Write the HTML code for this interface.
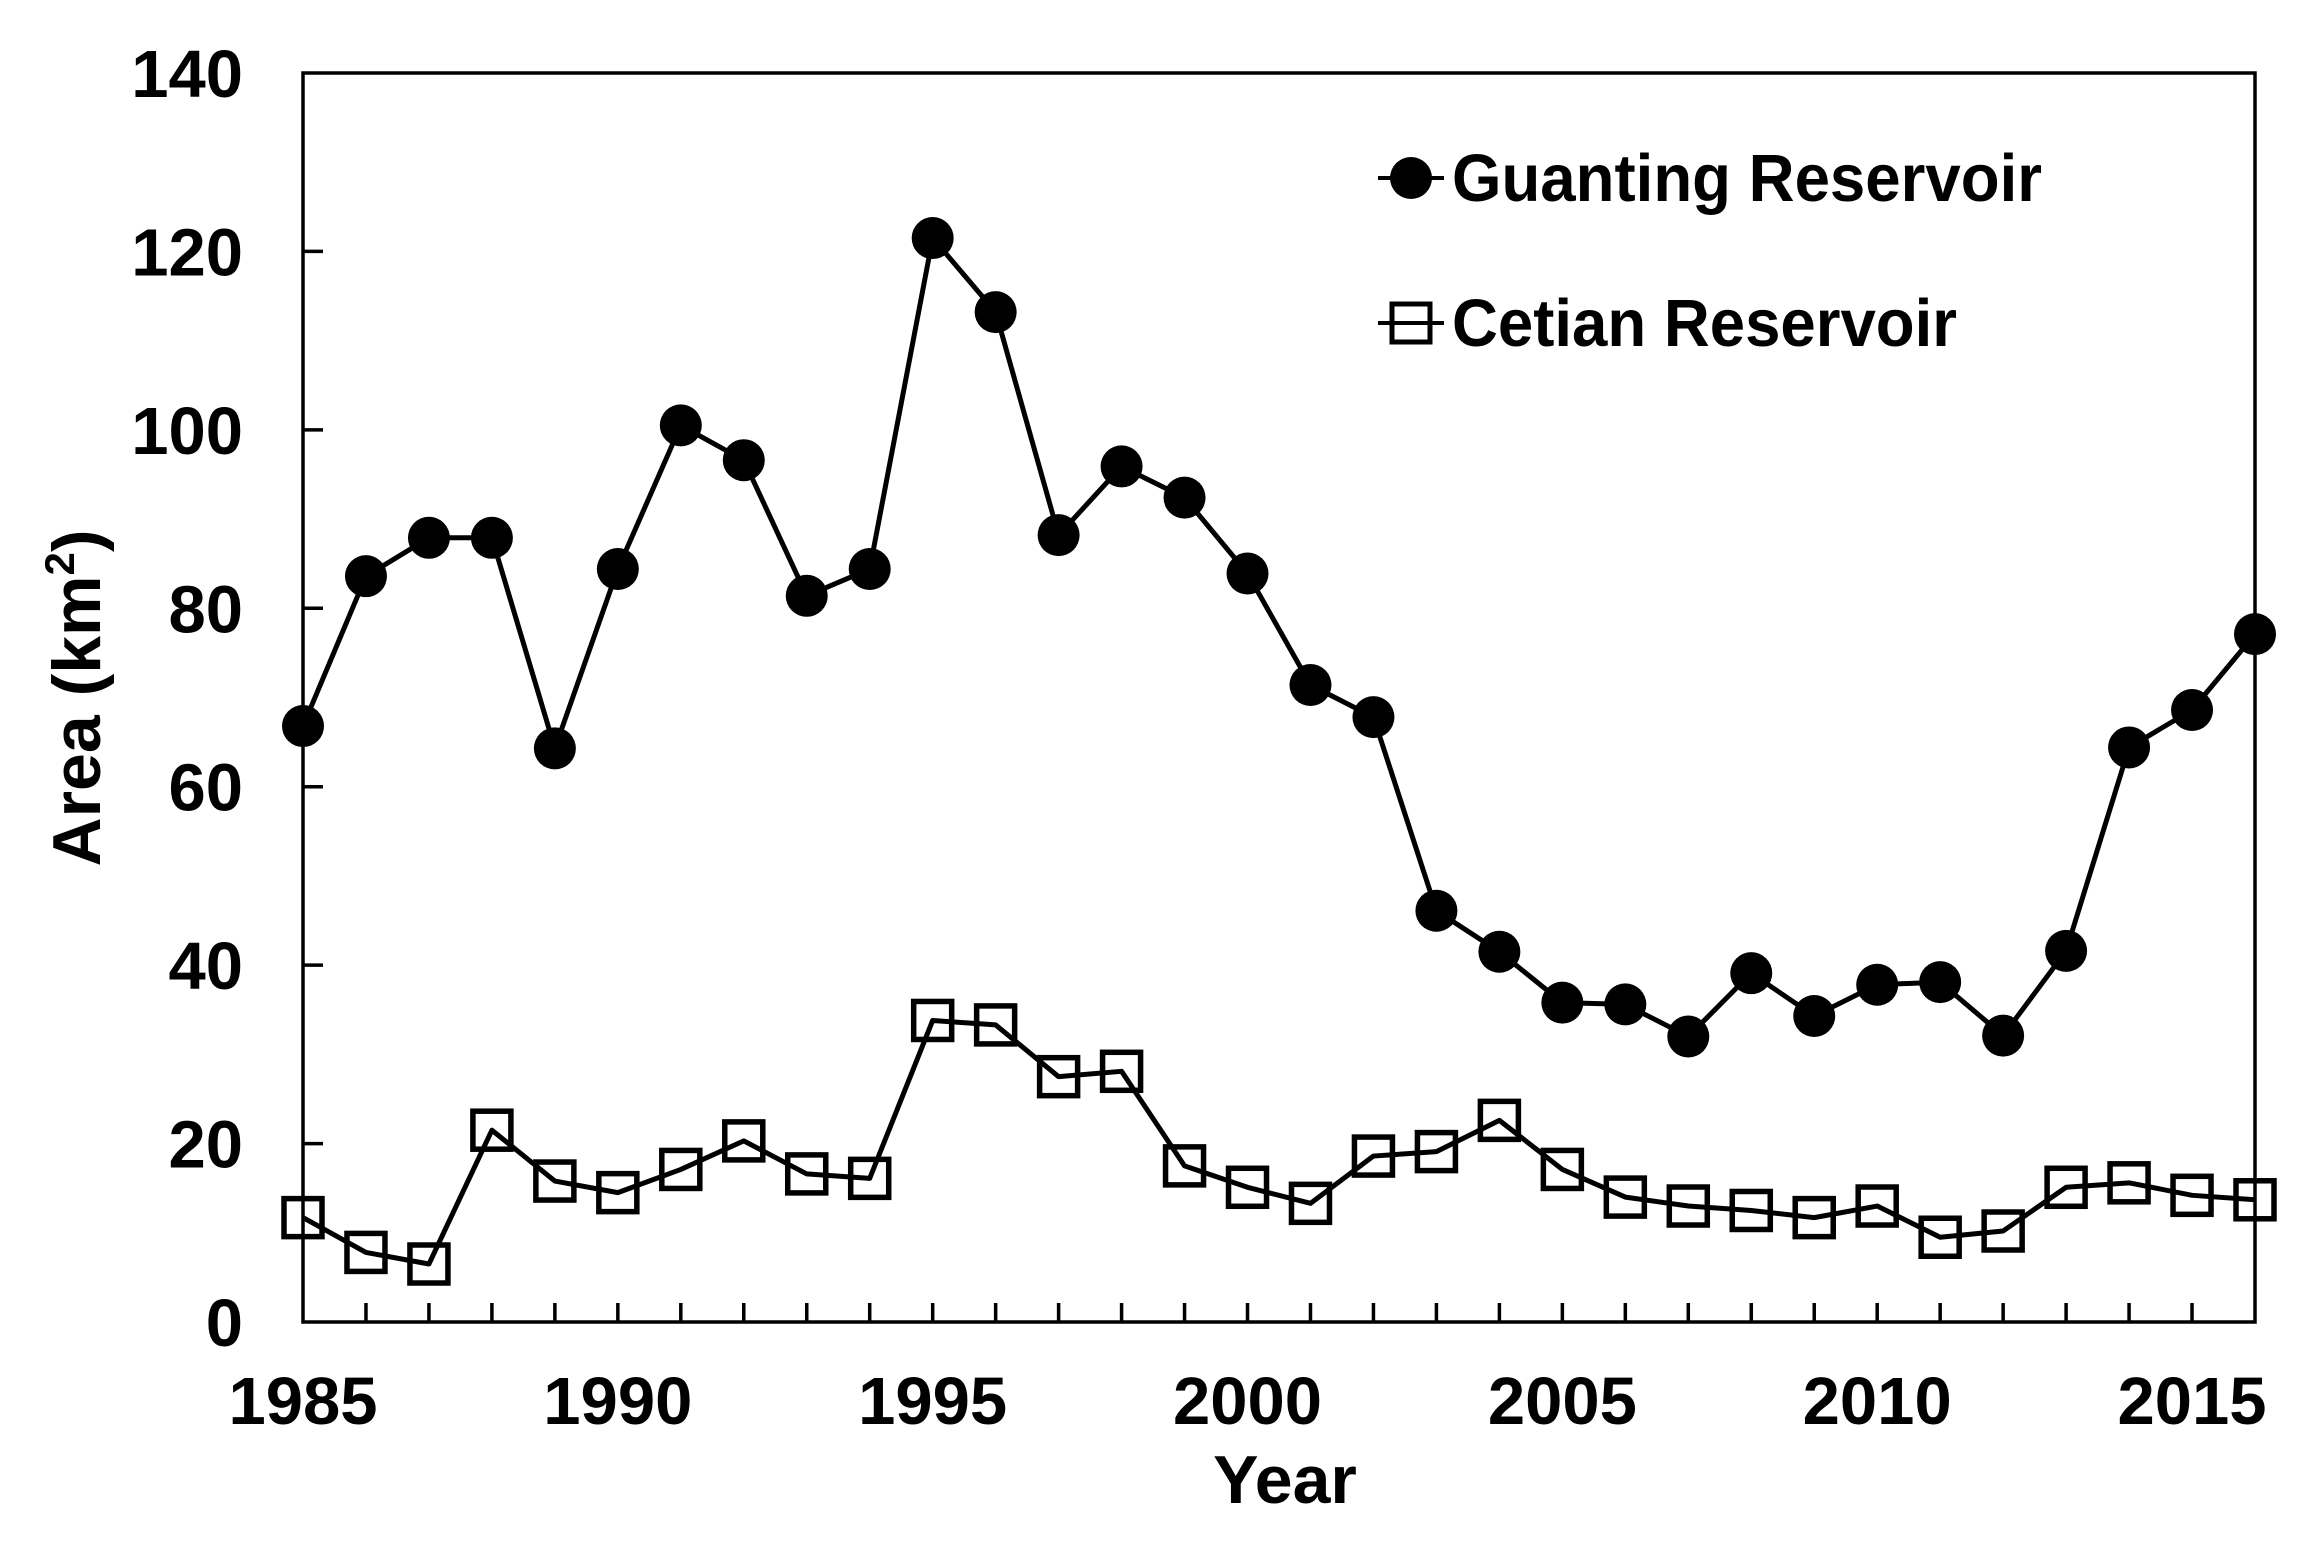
<!DOCTYPE html>
<html><head><meta charset="utf-8"><style>
html,body{margin:0;padding:0;background:#fff}
svg{display:block}
text{font-family:"Liberation Sans",Arial,sans-serif;font-weight:bold;fill:#000}
</style></head><body>
<svg id="chart" width="2317" height="1550" viewBox="0 0 2317 1550" xmlns="http://www.w3.org/2000/svg">
<rect width="2317" height="1550" fill="#fff"/>
<g id="axes"></g>
<g id="series"></g>
<g id="legend">
  <line x1="1378" y1="178" x2="1444" y2="178" stroke="#000" stroke-width="4"/>
  <circle cx="1411" cy="178" r="21" fill="#000"/>
  <text x="1452" y="201" font-size="67" textLength="590" lengthAdjust="spacingAndGlyphs">Guanting Reservoir</text>
  <line x1="1378" y1="323" x2="1444" y2="323" stroke="#000" stroke-width="4"/>
  <rect x="1392" y="304" width="38" height="38" fill="none" stroke="#000" stroke-width="5"/>
  <text x="1452" y="346" font-size="67" textLength="505" lengthAdjust="spacingAndGlyphs">Cetian Reservoir</text>
</g>
<text x="1285" y="1503" font-size="68" text-anchor="middle">Year</text>
<text transform="translate(100,698) rotate(-90)" font-size="68" text-anchor="middle">Area (km<tspan font-size="42" dy="-26">2</tspan><tspan dy="26">)</tspan></text>
</svg>
<script>
const years = [1985,1986,1987,1988,1989,1990,1991,1992,1993,1994,1995,1996,1997,1998,1999,2000,2001,2002,2003,2004,2005,2006,2007,2008,2009,2010,2011,2012,2013,2014,2015,2016];
const guanting = [66.8,83.6,87.9,87.9,64.3,84.4,100.5,96.6,81.4,84.4,121.5,113.2,88.2,95.9,92.4,83.9,71.4,67.8,46.1,41.5,35.8,35.6,32.0,39.1,34.3,37.8,38.1,32.1,41.6,64.4,68.6,77.1];
const cetian = [11.7,7.8,6.5,21.5,15.8,14.5,17.1,20.3,16.6,16.1,33.8,33.3,27.5,28.1,17.5,15.1,13.3,18.6,19.1,22.6,17.1,14.0,13.0,12.5,11.7,13.0,9.5,10.2,15.1,15.6,14.2,13.7];
const yTicks = [0,20,40,60,80,100,120,140];
const xTickLabels = [1985,1990,1995,2000,2005,2010,2015];

const NS = "http://www.w3.org/2000/svg";
const L = 303, R = 2255, T = 73, B = 1322;
const X0 = 1985, X1 = 2016, Y0 = 0, Y1 = 140;
function xs(v){ return L + (v - X0) / (X1 - X0) * (R - L); }
function ys(v){ return B - (v - Y0) / (Y1 - Y0) * (B - T); }
function mk(tag, attrs, parent){ const e = document.createElementNS(NS, tag); for (const k in attrs) e.setAttribute(k, attrs[k]); parent.appendChild(e); return e; }

const axes = document.getElementById('axes');
const frame = mk('rect', {x:L, y:T, width:R-L, height:B-T, fill:'none', stroke:'#000', 'stroke-width':3.5}, axes);



yTicks.forEach(v => {
  const y = ys(v);
  if (v > Y0 && v < Y1) {
    const t = mk('line', {x1:L, y1:y, x2:L+20, y2:y, stroke:'#000', 'stroke-width':3.5}, axes);
    
    
  }
  const lb = mk('text', {x:243, y:y+24, 'font-size':67, 'text-anchor':'end'}, axes);
  lb.textContent = v;
  
  
});
years.forEach(v => {
  if (v > X0 && v < X1) {
    const t = mk('line', {x1:xs(v), y1:B, x2:xs(v), y2:B-19, stroke:'#000', 'stroke-width':3.5}, axes);
    
    
  }
});
xTickLabels.forEach(v => {
  const lb = mk('text', {x:xs(v), y:1424, 'font-size':67, 'text-anchor':'middle'}, axes);
  lb.textContent = v;
  
  
});

const series = document.getElementById('series');
function drawLine(vals, name){
  const pts = years.map((yr, i) => xs(yr) + ',' + ys(vals[i])).join(' ');
  const pl = mk('polyline', {points:pts, fill:'none', stroke:'#000', 'stroke-width':5, 'stroke-linejoin':'round'}, series);
  
  
}
drawLine(guanting, 'guanting-line');
drawLine(cetian, 'cetian-line');
guanting.forEach((v, i) => {
  const c = mk('circle', {cx:xs(years[i]), cy:ys(v), r:21, fill:'#000'}, series);
  
  
});
cetian.forEach((v, i) => {
  const s = mk('rect', {x:xs(years[i])-19, y:ys(v)-19, width:38, height:38, fill:'none', stroke:'#000', 'stroke-width':5.5}, series);
  
  
});
</script>
</body></html>
